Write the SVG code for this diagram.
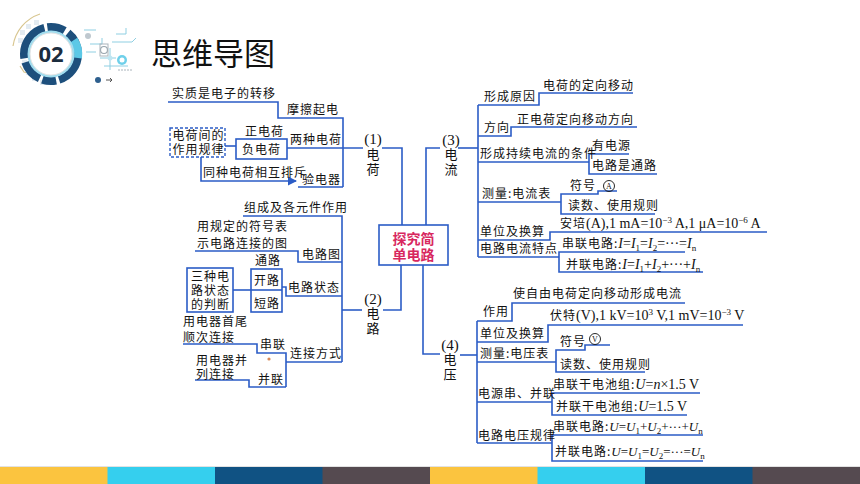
<svg xmlns="http://www.w3.org/2000/svg" width="860" height="484" viewBox="0 0 860 484">
<defs>
<style>
.ln{stroke:#2b5cc6;stroke-width:1.6;fill:none}
.t{font-family:"Noto Sans CJK SC","Noto Sans CJK JP",sans-serif;font-size:12px;fill:#111;letter-spacing:1px}
.lb{font-family:"Noto Sans CJK SC",sans-serif;font-size:13px;fill:#111;text-anchor:middle}
.num{font-family:"Liberation Serif",serif;font-size:15px;fill:#111;text-anchor:middle}
.m{font-family:"Liberation Serif",serif;font-size:14px;letter-spacing:0}
.mu{font-family:"Liberation Serif",serif;font-size:13px;letter-spacing:0}
.i{font-style:italic}
.sb{font-size:9px}
.bx{fill:none;stroke:#2b5cc6;stroke-width:1.6}
.deco{fill:none;stroke:#8fcfe2;stroke-width:1}
</style>
<marker id="arr" viewBox="0 0 8 8" refX="7" refY="4" markerWidth="6" markerHeight="6" orient="auto">
<path d="M0,0 L8,4 L0,8 Z" fill="#2b5cc6"/>
</marker>
</defs>
<rect width="860" height="484" fill="#fff"/>

<!-- header badge -->
<g id="badge">
<path d="M13,46 A40,40 0 0 1 40,14" fill="none" stroke="#d8c690" stroke-width="1.2"/>
<path d="M20,66 L24,72 L30,74" fill="none" stroke="#d8c690" stroke-width="1.2"/>
<g fill="#e3ebf1">
<rect x="20" y="30" width="5" height="5"/><rect x="26" y="24" width="5" height="5"/><rect x="18" y="38" width="5" height="5"/>
<rect x="26" y="70" width="5" height="5"/><rect x="32" y="76" width="5" height="5"/><rect x="22" y="60" width="5" height="5"/>
<rect x="34" y="20" width="5" height="5"/><rect x="40" y="80" width="5" height="5"/>
</g>
<circle cx="51" cy="54" r="27" fill="none" stroke="#1d4f7c" stroke-width="8" stroke-dasharray="34 3 14 3 22 4 40 3 18 4"/>
<path d="M74,40 A27,27 0 0 1 78,58" fill="none" stroke="#5cc8e6" stroke-width="8"/>
<circle cx="51" cy="54" r="23.5" fill="#9fdcee"/>
<circle cx="51" cy="54" r="21" fill="#fff" stroke="#e4e4e4" stroke-width="1"/>
<text x="51" y="62" text-anchor="middle" font-family="'Open Sans','Liberation Sans',sans-serif" font-weight="700" font-size="22" fill="#1b2c3e">02</text>
<path class="deco" d="M84,30 H96 M90,44 H102 V38 M112,42 H132 L136,38 M100,58 H116 M104,66 H128 M110,48 V70 M86,52 H96 M116,34 H126 V28"/>
<circle cx="88" cy="36" r="3" fill="#bfc8cf"/>
<circle cx="104" cy="50" r="3.5" fill="none" stroke="#9aa6ae" stroke-width="1.2"/>
<rect x="100" y="44" width="8" height="12" fill="none" stroke="#aab4bb" stroke-width="1"/>
<circle cx="122" cy="60" r="5" fill="#6fd0ea"/>
<circle cx="122" cy="60" r="2.5" fill="#fff"/>
<circle cx="110" cy="58" r="2.5" fill="#bfe6f2"/>
<circle cx="98" cy="80" r="3" fill="#2e5f8e"/>
<path d="M106,80 H112 M110,78 L112,80 L110,82" stroke="#555" stroke-width="1" fill="none"/>
<path d="M118,70 H132" stroke="#aab4bb" stroke-width="1" stroke-dasharray="2 1"/>
</g>
<text id="title" x="151" y="65" font-family="'Noto Sans CJK SC',sans-serif" font-size="31" fill="#111">思维导图</text>

<!-- connectors -->
<g id="connectors">
<path class="ln" d="M168,102 H278 V118 H343 V187"/>
<path class="ln" d="M287,148 H363"/>
<path class="ln" d="M382,148 H402 V225"/>
<path class="ln" d="M225,146 H236"/>
<path class="ln" d="M201,157 V181 H296" marker-end="url(#arr)"/>
<path class="ln" d="M298,187 H343"/>

<path class="ln" d="M243,216 H342 V362"/>
<path class="ln" d="M195,251 H298 V262 H342"/>
<path class="ln" d="M233,290 H251"/>
<path class="ln" d="M282,287 H286 V296 H342"/>
<path class="ln" d="M183,344 H257 V353 H286 V387"/>
<path class="ln" d="M195,380 H249 V387 H286"/>
<path class="ln" d="M286,362 H342"/>
<path class="ln" d="M342,310 H362"/>
<path class="ln" d="M383,310 H401 V265"/>

<path class="ln" d="M426,225 V148 H440"/>
<path class="ln" d="M458,148 H478"/>
<path class="ln" d="M478,105 V257"/>
<path class="ln" d="M478,105 H539 V93 H633"/>
<path class="ln" d="M478,136 H511 V127 H637"/>
<path class="ln" d="M478,162 H589"/>
<path class="ln" d="M629,154 H589 V174 H657"/>
<path class="ln" d="M478,202 H561"/>
<path class="ln" d="M617,191 H598 V194 H561 V214 H655"/>
<path class="ln" d="M478,240 H550 V232 H767"/>
<path class="ln" d="M478,257 H559"/>
<path class="ln" d="M685,252 H559 V272 H703"/>

<path class="ln" d="M423,265 V354 H440"/>
<path class="ln" d="M460,355 H477"/>
<path class="ln" d="M477,321 V443"/>
<path class="ln" d="M477,321 H512 V303 H685"/>
<path class="ln" d="M477,342 H548 V325 H743"/>
<path class="ln" d="M477,362 H556"/>
<path class="ln" d="M610,345 H585 V350 H556 V372 H645"/>
<path class="ln" d="M477,402 H552"/>
<path class="ln" d="M700,393 H552 V415 H687"/>
<path class="ln" d="M477,443 H552"/>
<path class="ln" d="M703,435 H552 V461 H703"/>
</g>

<!-- center -->
<g id="center">
<rect x="379" y="225" width="69" height="40" fill="#fff" stroke="#2b5cc6" stroke-width="1.6"/>
<text x="413.5" y="244" text-anchor="middle" font-family="'Noto Sans CJK SC',sans-serif" font-weight="700" font-size="14" fill="#d8285f">探究简</text>
<text x="413.5" y="260" text-anchor="middle" font-family="'Noto Sans CJK SC',sans-serif" font-weight="700" font-size="14" fill="#d8285f">单电路</text>
</g>

<!-- (1) charge -->
<g id="n1">
<text class="num" x="373" y="144">(1)</text>
<text class="lb" x="373" y="159">电</text>
<text class="lb" x="373" y="174">荷</text>
</g>
<g id="n1-a"><text class="t" x="172" y="98">实质是电子的转移</text></g>
<g id="n1-b"><text class="t" x="287" y="114">摩擦起电</text></g>
<g id="n1-c"><text class="t" x="290" y="144">两种电荷</text></g>
<g id="n1-d">
<rect x="170" y="128" width="55" height="29" fill="none" stroke="#2b5cc6" stroke-width="1.4" stroke-dasharray="3 2"/>
<text class="t" x="172.5" y="140" letter-spacing="0.5">电荷间的</text>
<text class="t" x="172.5" y="154" letter-spacing="0.5">作用规律</text>
</g>
<g id="n1-e"><text class="t" x="245" y="136">正电荷</text></g>
<g id="n1-f"><rect class="bx" x="236" y="139" width="51" height="20"/><text class="t" x="242" y="154">负电荷</text></g>
<g id="n1-g"><text class="t" x="203" y="177" letter-spacing="0" font-size="11.5">同种电荷相互排斥</text></g>
<g id="n1-h"><text class="t" x="302" y="184">验电器</text></g>

<!-- (2) circuit -->
<g id="n2">
<text class="num" x="373" y="304">(2)</text>
<text class="lb" x="373" y="318">电</text>
<text class="lb" x="373" y="333">路</text>
</g>
<g id="n2-a"><text class="t" x="244" y="212">组成及各元件作用</text></g>
<g id="n2-b"><text class="t" x="197" y="231">用规定的符号表</text><text class="t" x="197" y="248">示电路连接的图</text></g>
<g id="n2-c"><text class="t" x="302" y="259">电路图</text></g>
<g id="n2-d"><rect class="bx" x="187" y="268" width="46" height="44"/>
<text class="t" x="191" y="281">三种电</text><text class="t" x="191" y="295">路状态</text><text class="t" x="191" y="309">的判断</text></g>
<g id="n2-e"><text class="t" x="255" y="265">通路</text></g>
<g id="n2-f"><rect class="bx" x="251" y="269" width="31" height="43"/><path class="ln" d="M251,290 H282"/>
<text class="t" x="254" y="285">开路</text><text class="t" x="254" y="308">短路</text></g>
<g id="n2-g"><text class="t" x="288" y="292">电路状态</text></g>
<g id="n2-h"><text class="t" x="183" y="326">用电器首尾</text><text class="t" x="183" y="342">顺次连接</text></g>
<g id="n2-i"><text class="t" x="260" y="349">串联</text></g>
<g id="n2-j"><text class="t" x="290" y="358">连接方式</text></g>
<g id="n2-k"><text class="t" x="196" y="365">用电器并</text><text class="t" x="196" y="379">列连接</text></g>
<g id="n2-l"><text class="t" x="258" y="384">并联</text></g>
<circle cx="269" cy="359" r="1.6" fill="#d88a5a"/>

<!-- (3) current -->
<g id="n3">
<text class="num" x="451" y="145">(3)</text>
<text class="lb" x="451" y="159">电</text>
<text class="lb" x="451" y="174">流</text>
</g>
<g id="n3-a"><text class="t" x="484" y="101">形成原因</text></g>
<g id="n3-b"><text class="t" x="543" y="90">电荷的定向移动</text></g>
<g id="n3-c"><text class="t" x="484" y="132">方向</text></g>
<g id="n3-d"><text class="t" x="517" y="124">正电荷定向移动方向</text></g>
<g id="n3-e"><text class="t" x="480" y="158" letter-spacing="0">形成持续电流的条件</text></g>
<g id="n3-f"><text class="t" x="592" y="150">有电源</text></g>
<g id="n3-g"><text class="t" x="592" y="170">电路是通路</text></g>
<g id="n3-h"><text class="t" x="482" y="198">测量:电流表</text></g>
<g id="n3-i"><text class="t" x="570" y="190">符号</text>
<circle cx="609" cy="186" r="5.5" fill="none" stroke="#111" stroke-width="0.9"/>
<text x="609" y="189" text-anchor="middle" font-family="'Liberation Serif',serif" font-size="8" fill="#111">A</text></g>
<g id="n3-j"><text class="t" x="568" y="210">读数、使用规则</text></g>
<g id="n3-k"><text class="t" x="480" y="236">单位及换算</text></g>
<g id="n3-l"><text class="t" x="560" y="228">安培<tspan class="m">(A),1 mA=10<tspan class="sb" dy="-5">−3</tspan><tspan dy="5"> A,1 μA=10</tspan><tspan class="sb" dy="-5">−6</tspan><tspan dy="5"> A</tspan></tspan></text></g>
<g id="n3-m"><text class="t" x="480" y="253">电路电流特点</text></g>
<g id="n3-n"><text class="t" x="562" y="248">串联电路:<tspan class="m" letter-spacing="1.5"><tspan class="i">I</tspan>=<tspan class="i">I</tspan><tspan class="sb" dy="3">1</tspan><tspan dy="-3">=</tspan><tspan class="i">I</tspan><tspan class="sb" dy="3">2</tspan><tspan dy="-3">=···=</tspan><tspan class="i">I</tspan><tspan class="sb" dy="3">n</tspan></tspan></text></g>
<g id="n3-o"><text class="t" x="566" y="269">并联电路:<tspan class="m" letter-spacing="0.3"><tspan class="i">I</tspan>=<tspan class="i">I</tspan><tspan class="sb" dy="3">1</tspan><tspan dy="-3">+</tspan><tspan class="i">I</tspan><tspan class="sb" dy="3">2</tspan><tspan dy="-3">+···+</tspan><tspan class="i">I</tspan><tspan class="sb" dy="3">n</tspan></tspan></text></g>

<!-- (4) voltage -->
<g id="n4">
<text class="num" x="450" y="350">(4)</text>
<text class="lb" x="450" y="364">电</text>
<text class="lb" x="450" y="379">压</text>
</g>
<g id="n4-a"><text class="t" x="483" y="316">作用</text></g>
<g id="n4-b"><text class="t" x="513" y="298">使自由电荷定向移动形成电流</text></g>
<g id="n4-c"><text class="t" x="480" y="338">单位及换算</text></g>
<g id="n4-d"><text class="t" x="550" y="320">伏特<tspan class="m">(V),1 kV=10<tspan class="sb" dy="-5">3</tspan><tspan dy="5"> V,1 mV=10</tspan><tspan class="sb" dy="-5">−3</tspan><tspan dy="5"> V</tspan></tspan></text></g>
<g id="n4-e"><text class="t" x="480" y="358">测量:电压表</text></g>
<g id="n4-f"><text class="t" x="560" y="346">符号</text>
<circle cx="595" cy="339" r="5.5" fill="none" stroke="#111" stroke-width="0.9"/>
<text x="595" y="342" text-anchor="middle" font-family="'Liberation Serif',serif" font-size="8" fill="#111">V</text></g>
<g id="n4-g"><text class="t" x="560" y="369">读数、使用规则</text></g>
<g id="n4-h"><text class="t" x="478" y="398" letter-spacing="0.5">电源串、并联</text></g>
<g id="n4-i"><text class="t" x="553" y="389">串联干电池组:<tspan class="m"><tspan class="i">U</tspan>=<tspan class="i">n</tspan>×1.5 V</tspan></text></g>
<g id="n4-j"><text class="t" x="556" y="411">并联干电池组:<tspan class="m"><tspan class="i">U</tspan>=1.5 V</tspan></text></g>
<g id="n4-k"><text class="t" x="478" y="440" letter-spacing="0.5">电路电压规律</text></g>
<g id="n4-l"><text class="t" x="553" y="431">串联电路:<tspan class="mu"><tspan class="i">U</tspan>=<tspan class="i">U</tspan><tspan class="sb" dy="3">1</tspan><tspan dy="-3">+</tspan><tspan class="i">U</tspan><tspan class="sb" dy="3">2</tspan><tspan dy="-3">+···+</tspan><tspan class="i">U</tspan><tspan class="sb" dy="3">n</tspan></tspan></text></g>
<g id="n4-m"><text class="t" x="555" y="456">并联电路:<tspan class="mu"><tspan class="i">U</tspan>=<tspan class="i">U</tspan><tspan class="sb" dy="3">1</tspan><tspan dy="-3">=</tspan><tspan class="i">U</tspan><tspan class="sb" dy="3">2</tspan><tspan dy="-3">=···=</tspan><tspan class="i">U</tspan><tspan class="sb" dy="3">n</tspan></tspan></text></g>

<!-- bottom bar -->
<g id="bar">
<rect x="0" y="466" width="860" height="1" fill="#e2e2e2"/>
<rect x="0" y="467" width="108" height="17" fill="#fbc43f"/>
<rect x="107.5" y="467" width="108" height="17" fill="#35cfee"/>
<rect x="215" y="467" width="108" height="17" fill="#105283"/>
<rect x="322.5" y="467" width="108" height="17" fill="#554a50"/>
<rect x="430" y="467" width="108" height="17" fill="#fbc43f"/>
<rect x="537.5" y="467" width="108" height="17" fill="#35cfee"/>
<rect x="645" y="467" width="108" height="17" fill="#105283"/>
<rect x="752.5" y="467" width="107.5" height="17" fill="#554a50"/>
</g>
</svg>
